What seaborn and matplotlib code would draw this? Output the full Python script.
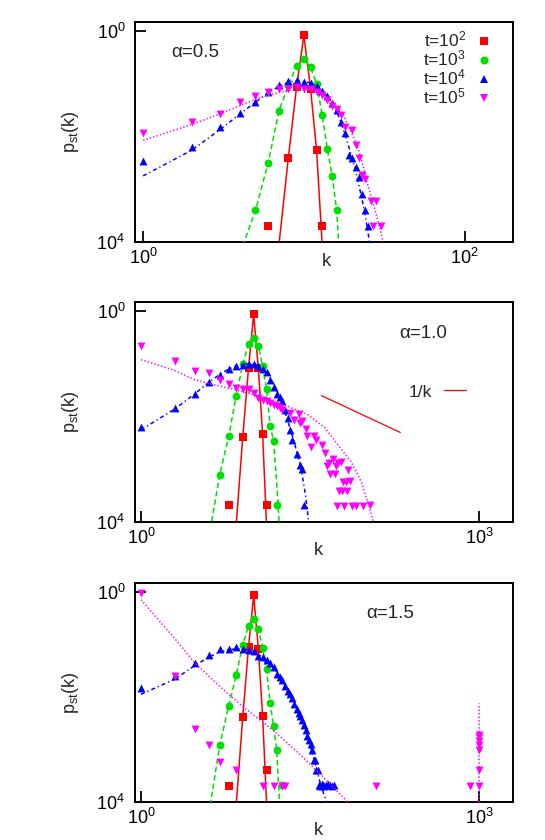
import matplotlib
matplotlib.use("Agg")
import matplotlib.pyplot as plt
import seaborn as sns
from matplotlib.lines import Line2D
from matplotlib.ticker import FixedLocator, FixedFormatter, NullLocator

# ---------------- data: alpha = 0.5 ----------------
K1_T2 = [6, 8, 9, 10, 11, 12, 13]
P1_T2 = [2.0e-4, 3.9e-3, 0.086, 0.84, 0.082, 5.5e-3, 2.0e-4]
KL1_T2 = [7, 8, 9, 10, 11, 12, 13]
PL1_T2 = [9e-5, 3.9e-3, 0.086, 0.84, 0.082, 5.5e-3, 9e-5]

K1_T3 = [5, 6, 7, 8, 9, 10, 11, 12, 13, 14, 15, 16]
P1_T3 = [4.0e-4, 3.2e-3, 0.031, 0.094, 0.22, 0.30, 0.21, 0.10, 0.026, 5.8e-3, 1.8e-3, 4.0e-4]
KL1_T3 = [4, 5, 6, 7, 8, 9, 10, 11, 12, 13, 14, 15, 16, 17]
PL1_T3 = [6e-5, 4.0e-4, 3.2e-3, 0.031, 0.094, 0.22, 0.30, 0.21, 0.10, 0.026, 5.8e-3, 1.8e-3, 4.0e-4, 2e-5]

K1_T4 = [1, 2, 3, 4, 5, 6, 7, 8, 9, 10, 11, 12, 13, 14, 15, 16, 17, 18, 19, 20, 21, 22, 23, 24, 25]
P1_T4 = [3.4e-3, 6.4e-3, 0.0152, 0.028, 0.046, 0.071, 0.094, 0.113, 0.118, 0.11, 0.106, 0.091, 0.073,
         0.059, 0.043, 0.032, 0.019, 0.0115, 4.5e-3, 3.9e-3, 2.7e-3, 1.7e-3, 8.3e-4, 4.0e-4, 2.0e-4]
KL1_T4 = [1, 2, 3, 4, 5, 6, 7, 8, 9, 10, 11, 12, 13, 14, 15, 16, 17, 18, 19, 20, 21, 22, 23, 24, 25, 26]
PL1_T4 = [1.8e-3, 5.5e-3, 0.0135, 0.027, 0.045, 0.068, 0.09, 0.108, 0.115, 0.112, 0.104, 0.09, 0.074,
          0.058, 0.043, 0.03, 0.019, 0.011, 6.5e-3, 3.8e-3, 2.2e-3, 1.2e-3, 6.5e-4, 3.4e-4, 1.6e-4, 7e-5]

K1_T5 = [1, 2, 3, 4, 5, 6, 7, 8, 9, 10, 11, 12, 13, 14, 15, 16, 17, 18, 20, 21, 22, 23, 24, 26, 27, 28, 30]
P1_T5 = [0.0115, 0.019, 0.0275, 0.046, 0.059, 0.071, 0.082, 0.08, 0.086, 0.082, 0.08, 0.071, 0.061,
         0.05, 0.038, 0.033, 0.026, 0.0152, 0.0133, 6.8e-3, 4.0e-3, 1.9e-3, 1.6e-3, 5.9e-4, 2.0e-4, 5.9e-4, 2.0e-4]
KL1_T5 = [1, 2, 3, 4, 5, 6, 7, 8, 9, 10, 11, 12, 13, 14, 15, 16, 17, 18, 19, 20, 21, 22, 23, 24, 25,
          26, 27, 28, 29, 30, 31, 32]
PL1_T5 = [8.5e-3, 0.017, 0.027, 0.039, 0.051, 0.061, 0.069, 0.075, 0.078, 0.078, 0.076, 0.071, 0.064,
          0.056, 0.047, 0.038, 0.03, 0.022, 0.0155, 0.011, 8.0e-3, 5.3e-3, 3.3e-3, 2.0e-3, 1.2e-3,
          8e-4, 5.3e-4, 3.6e-4, 2.4e-4, 1.6e-4, 1.05e-4, 7e-5]

# ---------------- data: alpha = 1.0 ----------------
K2_T2 = [6, 8, 9, 10, 11, 12, 13]
P2_T2 = [2.1e-4, 4.1e-3, 0.084, 0.87, 0.082, 4.7e-3, 2.1e-4]
KL2_T2 = [7, 8, 9, 10, 11, 12, 13]
PL2_T2 = [9e-5, 4.1e-3, 0.084, 0.87, 0.082, 4.7e-3, 9e-5]

K2_T3 = [5, 6, 7, 8, 9, 10, 11, 12, 13, 14, 15, 16]
P2_T3 = [7.9e-4, 4.2e-3, 0.025, 0.10, 0.24, 0.31, 0.216, 0.09, 0.033, 6.7e-3, 3.5e-3, 2.1e-4]
KL2_T3 = [4, 5, 6, 7, 8, 9, 10, 11, 12, 13, 14, 15, 16, 17]
PL2_T3 = [5e-5, 7.9e-4, 4.2e-3, 0.025, 0.10, 0.24, 0.31, 0.216, 0.09, 0.033, 6.7e-3, 3.5e-3, 5.5e-4, 7e-5]

K2_T4 = [1, 2, 3, 4, 5, 6, 7, 8, 9, 10, 11, 12, 13, 14, 15, 16, 17, 18, 19, 20, 21, 22, 24, 26, 27, 28]
P2_T4 = [6.3e-3, 0.0146, 0.027, 0.046, 0.063, 0.08, 0.093, 0.097, 0.1, 0.1, 0.093, 0.08, 0.07, 0.05,
         0.037, 0.027, 0.024, 0.0195, 0.0134, 9.4e-3, 5.6e-3, 3.6e-3, 1.96e-3, 1.2e-3, 1.0e-3, 2.1e-4]
KL2_T4 = [1, 2, 3, 4, 5, 6, 7, 8, 9, 10, 11, 12, 13, 14, 15, 16, 17, 18, 19, 20, 21, 22, 23, 24, 25,
          26, 27, 28, 29, 30, 31]
PL2_T4 = [5.6e-3, 0.014, 0.027, 0.045, 0.063, 0.08, 0.092, 0.098, 0.1, 0.098, 0.092, 0.082, 0.069,
          0.055, 0.042, 0.031, 0.023, 0.017, 0.012, 8.5e-3, 6.0e-3, 4.4e-3, 3.2e-3, 2.2e-3, 1.6e-3,
          1.15e-3, 7.5e-4, 4.8e-4, 2.9e-4, 1.6e-4, 8e-5]

K2_T5 = [1, 2, 3, 4, 5, 6, 7, 8, 9, 10, 11, 12, 13, 14, 15, 16, 17, 18, 21, 23, 25, 26, 27, 29, 30,
         32, 34, 36, 40, 43, 45, 47, 48, 51, 53, 54, 55, 56, 57, 60, 61, 62, 63, 66, 67, 69, 72, 74,
         81, 93, 107]
P2_T5 = [0.216, 0.112, 0.072, 0.067, 0.049, 0.042, 0.035, 0.033, 0.033, 0.028, 0.023, 0.021, 0.0195,
         0.018, 0.0165, 0.0157, 0.0146, 0.0131, 0.0118, 8.8e-3, 0.011, 7.6e-3, 8.1e-3, 5.7e-3, 4.2e-3,
         2.7e-3, 4.2e-3, 3.6e-3, 2.9e-3, 2.0e-3, 1.15e-3, 1.3e-3, 8e-4, 1.6e-3, 8e-4, 1.15e-3, 2.0e-4,
         1.3e-3, 3.9e-4, 1.4e-3, 3.9e-4, 5.7e-4, 2.0e-4, 5.7e-4, 3.9e-4, 9.7e-4, 6.1e-4, 2.0e-4,
         2.0e-4, 2.0e-4, 2.1e-4]
KL2_T5 = [1, 2, 3, 5, 7, 10, 13, 20, 30, 43, 56, 73, 90, 107, 114, 125]
PL2_T5 = [0.12, 0.075, 0.05, 0.038, 0.032, 0.026, 0.021, 0.0157, 0.011, 6.1e-3, 2.9e-3, 1.4e-3,
          5.8e-4, 1.8e-4, 1.1e-4, 3e-5]

K_INV = [40, 200]
P_INV = [0.025, 0.005]

# ---------------- data: alpha = 1.5 ----------------
K3_T2 = [6, 8, 9, 10, 11, 12, 13]
P3_T2 = [2.0e-4, 4.2e-3, 0.09, 0.87, 0.084, 4.4e-3, 4.1e-4]
KL3_T2 = [7, 8, 9, 10, 11, 12, 13]
PL3_T2 = [9e-5, 4.2e-3, 0.09, 0.87, 0.084, 4.4e-3, 1e-4]

K3_T3 = [5, 6, 7, 8, 9, 10, 11, 12, 13, 14, 15, 16, 18]
P3_T3 = [1.2e-3, 6.8e-3, 0.026, 0.10, 0.226, 0.31, 0.20, 0.086, 0.034, 7.6e-3, 2.8e-3, 9.9e-4, 2.1e-4]
KL3_T3 = [4, 5, 6, 7, 8, 9, 10, 11, 12, 13, 14, 15, 16, 17]
PL3_T3 = [6e-5, 1.2e-3, 6.8e-3, 0.026, 0.10, 0.226, 0.31, 0.20, 0.086, 0.034, 7.6e-3, 2.8e-3, 9.9e-4, 9e-5]

K3_T4 = [1, 2, 3, 4, 5, 6, 7, 8, 9, 10, 11, 12, 13, 14, 15, 16, 17, 18, 19, 20, 21, 22, 23, 24, 25,
         26, 27, 28, 29, 30, 31, 32, 33, 34, 35, 36, 37, 38, 39, 40, 41, 42, 44, 46, 48, 50, 52]
P3_T4 = [0.0146, 0.025, 0.045, 0.063, 0.082, 0.082, 0.09, 0.084, 0.078, 0.076, 0.06, 0.057, 0.05,
         0.044, 0.037, 0.027, 0.024, 0.021, 0.016, 0.013, 0.0115, 9.8e-3, 7.5e-3, 6.0e-3, 5.0e-3,
         4.3e-3, 3.6e-3, 2.9e-3, 2.4e-3, 1.8e-3, 1.5e-3, 1.25e-3, 1.0e-3, 6.2e-4, 6.2e-4, 4.1e-4,
         4.1e-4, 2.1e-4, 2.0e-4, 2.2e-4, 2.1e-4, 2.0e-4, 2.1e-4, 2.2e-4, 2.1e-4, 2.0e-4, 2.1e-4]
KL3_T4 = [1, 2, 3, 4, 5, 6, 7, 8, 9, 10, 11, 12, 13, 14, 15, 16, 17, 18, 19, 20, 22, 24, 26, 28, 30,
          32, 34, 36, 38, 40, 42, 44, 46]
PL3_T4 = [0.0113, 0.022, 0.04, 0.058, 0.072, 0.08, 0.083, 0.082, 0.078, 0.072, 0.065, 0.058, 0.05,
          0.043, 0.036, 0.03, 0.025, 0.02, 0.016, 0.013, 9e-3, 6e-3, 4.1e-3, 2.7e-3, 1.7e-3, 1.1e-3,
          7e-4, 4.4e-4, 2.8e-4, 1.9e-4, 1.4e-4, 1.1e-4, 8e-5]

K3_T5 = [1, 2, 3, 4, 5, 7, 12, 15, 18, 19, 121, 832, 994, 995, 996, 997, 998, 999, 1000]
P3_T5 = [0.96, 0.025, 2.5e-3, 1.2e-3, 5.9e-4, 4.0e-4, 2.0e-4, 2.0e-4, 2.0e-4, 2.0e-4, 2.0e-4, 2.0e-4,
         1.0e-3, 1.2e-3, 1.45e-3, 1.7e-3, 1.9e-3, 4.0e-4, 2.0e-4]
KL3_T5 = [1, 2, 3, 5, 8, 15, 26, 42, 66, 90, 999, 1000]
PL3_T5 = [0.72, 0.13, 0.045, 0.016, 6.6e-3, 2.3e-3, 7.9e-4, 2.9e-4, 1.08e-4, 5e-5, 1e-8, 7.6e-3]

LEGEND_LABELS = ['t=10$^2$', 't=10$^3$', 't=10$^4$', 't=10$^5$']
ALPHA_LABELS = ['α=0.5', 'α=1.0', 'α=1.5']

# ---------------- style ----------------
sns.set_theme(style="ticks")
plt.rcParams['font.family'] = ['Liberation Sans', 'DejaVu Sans']
plt.rcParams['mathtext.fontset'] = 'custom'
plt.rcParams['mathtext.rm'] = 'Liberation Sans'
plt.rcParams['mathtext.it'] = 'Liberation Sans'
plt.rcParams['mathtext.default'] = 'regular'

RED, GREEN, BLUE, MAG = '#ff0000', '#00e000', '#0000ff', '#ff00ff'
STY = {
    'T2': (RED, 's', '-'),
    'T3': (GREEN, 'o', (0, (3.5, 2.0))),
    'T4': (BLUE, '^', (0, (2.6, 2.0, 0.8, 2.0))),
    'T5': (MAG, 'v', (0, (0.9, 1.4))),
}

fig = plt.figure(figsize=(5.45, 8.4), dpi=100)
axes = [
    fig.add_axes([0.2477, 0.7119, 0.6936, 0.2619]),
    fig.add_axes([0.2477, 0.3786, 0.6936, 0.2619]),
    fig.add_axes([0.2477, 0.0452, 0.6936, 0.2608]),
]

panels = [
    [('T2', K1_T2, P1_T2, KL1_T2, PL1_T2), ('T3', K1_T3, P1_T3, KL1_T3, PL1_T3),
     ('T4', K1_T4, P1_T4, KL1_T4, PL1_T4), ('T5', K1_T5, P1_T5, KL1_T5, PL1_T5)],
    [('T2', K2_T2, P2_T2, KL2_T2, PL2_T2), ('T3', K2_T3, P2_T3, KL2_T3, PL2_T3),
     ('T4', K2_T4, P2_T4, KL2_T4, PL2_T4), ('T5', K2_T5, P2_T5, KL2_T5, PL2_T5)],
    [('T2', K3_T2, P3_T2, KL3_T2, PL3_T2), ('T3', K3_T3, P3_T3, KL3_T3, PL3_T3),
     ('T4', K3_T4, P3_T4, KL3_T4, PL3_T4), ('T5', K3_T5, P3_T5, KL3_T5, PL3_T5)],
]

xlims = [(0.89, 200), (0.885, 2000), (0.885, 2000)]
xticks = [[1, 100], [1, 1000], [1, 1000]]
xticklabels = [['$10^{0}$', '$10^{2}$'], ['$10^{0}$', '$10^{3}$'], ['$10^{0}$', '$10^{3}$']]
alpha_pos = [(0.159, 0.86), (0.762, 0.858), (0.675, 0.862)]
xlabel_pos = [(0.507, -0.09), (0.484, -0.13), (0.484, -0.128)]

for i, ax in enumerate(axes):
    z = 2
    for key, kp, pp, kl, pl in panels[i]:
        color, marker, ls = STY[key]
        sns.lineplot(x=kl, y=pl, ax=ax, color=color, linewidth=1.1, linestyle=ls,
                     sort=False, estimator=None, zorder=z)
        sns.scatterplot(x=kp, y=pp, ax=ax, color=color, marker=marker, s=32,
                        linewidth=0, zorder=z + 1)
        z += 2
    if i == 1:
        sns.lineplot(x=K_INV, y=P_INV, ax=ax, color=RED, linewidth=0.9,
                     sort=False, estimator=None, zorder=z)

    ax.set_xscale('log')
    ax.set_yscale('log')
    ax.set_xlim(*xlims[i])
    ax.set_ylim(1e-4, 1.5)
    ax.xaxis.set_major_locator(FixedLocator(xticks[i]))
    ax.xaxis.set_major_formatter(FixedFormatter(xticklabels[i]))
    ax.yaxis.set_major_locator(FixedLocator([1e-4, 1]))
    ax.yaxis.set_major_formatter(FixedFormatter(['$10^{4}$', '$10^{0}$']))
    ax.xaxis.set_minor_locator(NullLocator())
    ax.yaxis.set_minor_locator(NullLocator())
    ax.tick_params(axis='both', which='major', direction='in', length=8, width=1.3,
                   labelsize=13, colors='black', bottom=True, left=True, top=False, right=False)
    ax.tick_params(axis='x', pad=4)
    ax.tick_params(axis='y', pad=7)
    for sp in ax.spines.values():
        sp.set_visible(True)
        sp.set_linewidth(1.4)
        sp.set_color('black')
    ax.set_xlabel('k', fontsize=13)
    ax.xaxis.label.set_verticalalignment('center')
    ax.xaxis.set_label_coords(*xlabel_pos[i])
    ax.set_ylabel('p$_{st}$(k)', fontsize=13)
    ax.yaxis.set_label_coords(-0.143, 0.5)
    ax.text(alpha_pos[i][0], alpha_pos[i][1], ALPHA_LABELS[i], transform=ax.transAxes,
            ha='center', va='center', fontsize=13.5)

# legend in first panel
handles = [Line2D([], [], linestyle='none', marker=STY[k][1], color=STY[k][0],
                  markersize=5.8, markeredgewidth=0) for k in ['T2', 'T3', 'T4', 'T5']]
axes[0].legend(handles, LEGEND_LABELS, loc='upper right', bbox_to_anchor=(0.945, 0.965),
               markerfirst=False, frameon=False, fontsize=12.5, handlelength=1.0,
               handletextpad=0.5, labelspacing=-0.05, borderaxespad=0, borderpad=0)

# 1/k legend in second panel
axes[1].legend([Line2D([], [], color=RED, linewidth=0.9)], ['1/k'], loc='center right',
               bbox_to_anchor=(0.875, 0.591), markerfirst=False, frameon=False, fontsize=12.5,
               handlelength=1.25, handletextpad=0.7, borderaxespad=0, borderpad=0)

fig.savefig('out.png', dpi=100)
